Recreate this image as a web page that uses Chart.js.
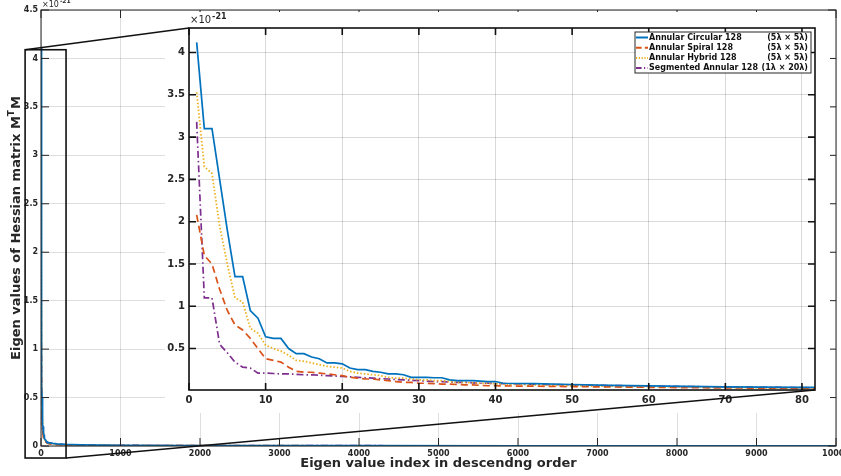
<!DOCTYPE html>
<html>
<head>
<meta charset="utf-8">
<title>Eigen values of Hessian matrix</title>
<script src="https://cdn.jsdelivr.net/npm/chart.js@4/dist/chart.umd.min.js"></script>
<style>
  html, body { margin: 0; padding: 0; background: #fff; }
  #wrap { position: relative; width: 841px; height: 476px; overflow: hidden; }
  #wrap canvas { position: absolute; }
  #mainChart { left: 0; top: 0; }
  #zoomChart { left: 165px; top: 12px; }
  #overlay { left: 0; top: 0; pointer-events: none; }
</style>
</head>
<body>
<div id="wrap">
  <canvas id="mainChart" width="841" height="476"></canvas>
  <canvas id="zoomChart" width="665" height="401"></canvas>
  <canvas id="overlay" width="841" height="476"></canvas>
</div>
<script>
// eigen value index (shared x values for every series)
const eigIndex = [
  1, 2, 3, 4, 5, 6, 7, 8, 9, 10,
  11, 12, 13, 14, 15, 16, 17, 18, 19, 20,
  21, 22, 23, 24, 25, 26, 27, 28, 29, 30,
  31, 32, 33, 34, 35, 36, 37, 38, 39, 40,
  41, 45, 50, 55, 60, 65, 70, 75, 80, 82,
  100, 150, 200, 300, 500, 1000, 2000, 4000, 6000, 8000, 10000
];

// eigen values, in units of 1e-21
const annularCircular = [
  4.12, 3.10, 3.10, 2.50, 1.90, 1.35, 1.35, 0.95, 0.86, 0.64,
  0.62, 0.62, 0.50, 0.44, 0.44, 0.40, 0.38, 0.33, 0.33, 0.32,
  0.27, 0.25, 0.25, 0.23, 0.22, 0.20, 0.20, 0.19, 0.16, 0.16,
  0.16, 0.155, 0.155, 0.13, 0.12, 0.12, 0.12, 0.115, 0.11, 0.11,
  0.09, 0.085, 0.075, 0.065, 0.058, 0.052, 0.048, 0.045, 0.042, 0.04,
  0.035, 0.028, 0.022, 0.016, 0.011, 0.007, 0.004, 0.003, 0.002, 0.0015, 0.001
];
const annularSpiral = [
  2.08, 1.60, 1.50, 1.20, 0.95, 0.78, 0.72, 0.62, 0.50, 0.38,
  0.36, 0.34, 0.28, 0.23, 0.22, 0.22, 0.21, 0.20, 0.19, 0.18,
  0.16, 0.15, 0.14, 0.14, 0.13, 0.12, 0.11, 0.10, 0.10, 0.09,
  0.09, 0.085, 0.08, 0.08, 0.075, 0.07, 0.07, 0.065, 0.06, 0.06,
  0.058, 0.055, 0.05, 0.046, 0.042, 0.038, 0.035, 0.032, 0.03, 0.029,
  0.024, 0.018, 0.014, 0.01, 0.007, 0.004, 0.003, 0.002, 0.0015, 0.001, 0.0005
];
const annularHybrid = [
  3.53, 2.65, 2.57, 1.95, 1.50, 1.10, 1.05, 0.74, 0.68, 0.54,
  0.50, 0.47, 0.42, 0.36, 0.35, 0.33, 0.31, 0.29, 0.28, 0.27,
  0.23, 0.21, 0.20, 0.19, 0.18, 0.16, 0.15, 0.15, 0.14, 0.13,
  0.13, 0.12, 0.12, 0.11, 0.10, 0.10, 0.095, 0.09, 0.09, 0.085,
  0.08, 0.07, 0.06, 0.055, 0.05, 0.045, 0.04, 0.035, 0.032, 0.03,
  0.026, 0.02, 0.016, 0.012, 0.008, 0.005, 0.003, 0.002, 0.0015, 0.001, 0.0008
];
const segmentedAnnular = [
  3.18, 1.10, 1.10, 0.55, 0.45, 0.34, 0.28, 0.27, 0.21, 0.21,
  0.205, 0.20, 0.20, 0.195, 0.19, 0.19, 0.185, 0.18, 0.175, 0.17,
  0.165, 0.16, 0.155, 0.15, 0.145, 0.14, 0.135, 0.13, 0.125, 0.12,
  0.115, 0.11, 0.11, 0.105, 0.10, 0.10, 0.095, 0.09, 0.09, 0.085,
  0.085, 0.078, 0.07, 0.063, 0.056, 0.05, 0.046, 0.042, 0.038, 0.036,
  0.03, 0.024, 0.019, 0.014, 0.01, 0.006, 0.004, 0.003, 0.002, 0.0015, 0.001
];

const seriesNames = ["Annular Circular 128", "Annular Spiral 128", "Annular Hybrid 128", "Segmented Annular 128"];
const seriesSizes = ["(5λ × 5λ)", "(5λ × 5λ)", "(5λ × 5λ)", "(1λ × 20λ)"];
const seriesValues = [annularCircular, annularSpiral, annularHybrid, segmentedAnnular];
const seriesColors = ["#0072BD", "#D95319", "#EDB120", "#7E2F8E"];
const seriesDashes = [[], [7, 4], [1.5, 2], [7, 3, 1.5, 3]];

// region of the main plot that the inset blows up (data units)
const zoomBox = { x0: -200, x1: 315, y0: -0.124, y1: 4.09 };

const FONT = "DejaVu Sans";
const TEXT = "#262626";

function makeDatasets() {
  return seriesValues.map((vals, i) => ({
    label: seriesNames[i],
    data: eigIndex.map((x, j) => ({ x: x, y: vals[j] })),
    borderColor: seriesColors[i],
    borderDash: seriesDashes[i],
    borderWidth: i === 2 ? 1.8 : 1.7,
    pointRadius: 0,
    tension: 0,
    fill: false
  }));
}

// tick label without trailing zeros: 4 not 4.0
const fmt = v => String(Math.round(v * 100) / 100);

// MATLAB-ish box with inward tick marks on all four sides
function drawBox(chart, len, width, color) {
  const { ctx, chartArea: a, scales } = chart;
  ctx.save();
  ctx.strokeStyle = color;
  ctx.lineWidth = width;
  ctx.beginPath();
  scales.x.ticks.forEach(t => {
    const px = scales.x.getPixelForValue(t.value);
    ctx.moveTo(px, a.bottom); ctx.lineTo(px, a.bottom - len);
    ctx.moveTo(px, a.top); ctx.lineTo(px, a.top + len);
  });
  scales.y.ticks.forEach(t => {
    const py = scales.y.getPixelForValue(t.value);
    ctx.moveTo(a.left, py); ctx.lineTo(a.left + len, py);
    ctx.moveTo(a.right, py); ctx.lineTo(a.right - len, py);
  });
  ctx.stroke();
  ctx.strokeRect(a.left, a.top, a.right - a.left, a.bottom - a.top);
  ctx.restore();
}

// "×10^-21" exponent label above the y axis
function drawExponent(ctx, x, y, size) {
  ctx.save();
  ctx.fillStyle = TEXT;
  ctx.textAlign = "left";
  ctx.textBaseline = "alphabetic";
  ctx.font = size + "px " + FONT;
  ctx.fillText("×10", x, y);
  const w = ctx.measureText("×10").width;
  ctx.font = "bold " + Math.round(size * 0.75) + "px " + FONT;
  ctx.fillText("-21", x + w + 1, y - size * 0.45);
  ctx.restore();
}

function noPad(scale) {
  scale.paddingLeft = 0; scale.paddingRight = 0;
  scale.paddingTop = 0; scale.paddingBottom = 0;
}

const mainDecor = {
  id: "mainDecor",
  afterDraw(chart) {
    const { ctx, chartArea: a } = chart;
    drawBox(chart, 8, 1, TEXT);
    drawExponent(ctx, a.left + 1, a.top - 3, 8);

    // axis titles
    ctx.save();
    ctx.fillStyle = TEXT;
    ctx.font = "bold 13px " + FONT;
    ctx.textAlign = "center";
    ctx.textBaseline = "middle";
    ctx.fillText("Eigen value index in descendng order", (a.left + a.right) / 2, 464);

    const p1 = "Eigen values of Hessian matrix M", p2 = "M", sup = "T";
    const w1 = ctx.measureText(p1).width, w2 = ctx.measureText(p2).width;
    ctx.font = "bold 9px " + FONT;
    const ws = ctx.measureText(sup).width;
    const total = w1 + ws + w2 + 1;
    ctx.translate(17, (a.top + a.bottom) / 2);
    ctx.rotate(-Math.PI / 2);
    ctx.textAlign = "left";
    ctx.font = "bold 13px " + FONT;
    let cx = -total / 2;
    ctx.fillText(p1, cx, 0); cx += w1;
    ctx.font = "bold 9px " + FONT;
    ctx.fillText(sup, cx, -5); cx += ws + 1;
    ctx.font = "bold 13px " + FONT;
    ctx.fillText(p2, cx, 0);
    ctx.restore();
  }
};

const zoomDecor = {
  id: "zoomDecor",
  beforeDraw(chart) {
    const ctx = chart.ctx;
    ctx.save();
    ctx.fillStyle = "#fff";
    ctx.fillRect(0, 0, chart.width, chart.height);
    ctx.restore();
  },
  afterDraw(chart) {
    const { ctx, chartArea: a } = chart;
    drawBox(chart, 7, 1.6, "#111");
    drawExponent(ctx, a.left + 1, a.top - 5, 10);

    // legend: name on the left, aperture size right-aligned
    const bw = 176, bh = 41;
    const bx = a.right - 4 - bw, by = a.top + 4;
    ctx.save();
    ctx.fillStyle = "#fff";
    ctx.fillRect(bx, by, bw, bh);
    ctx.strokeStyle = "#262626";
    ctx.lineWidth = 1;
    ctx.strokeRect(bx, by, bw, bh);
    ctx.font = "bold 8px " + FONT;
    ctx.textBaseline = "middle";
    seriesNames.forEach((name, i) => {
      const ry = by + 5.5 + i * 10.2;
      ctx.strokeStyle = seriesColors[i];
      ctx.lineWidth = 2;
      ctx.setLineDash(seriesDashes[i].map(d => d * 0.8));
      ctx.beginPath();
      ctx.moveTo(bx + 1, ry); ctx.lineTo(bx + 13, ry);
      ctx.stroke();
      ctx.setLineDash([]);
      ctx.fillStyle = "#111";
      ctx.textAlign = "left";
      ctx.fillText(name, bx + 14, ry);
      ctx.textAlign = "right";
      ctx.fillText(seriesSizes[i], bx + bw - 3, ry);
    });
    ctx.restore();
  }
};

const gridColor = "rgba(0,0,0,0.13)";

const mainChart = new Chart(document.getElementById("mainChart"), {
  type: "line",
  data: { datasets: makeDatasets() },
  options: {
    responsive: false,
    animation: false,
    layout: { padding: { left: 0, top: 10, right: 5, bottom: 0 } },
    plugins: { legend: { display: false }, tooltip: { enabled: false } },
    scales: {
      x: {
        type: "linear", min: 0, max: 10000,
        afterFit: s => { s.height = 30; noPad(s); },
        border: { display: false },
        grid: { color: gridColor, drawTicks: false },
        ticks: {
          stepSize: 1000, autoSkip: false, maxRotation: 0, padding: 3,
          color: TEXT, font: { family: FONT, size: 8, weight: "bold" },
          callback: v => String(v)
        }
      },
      y: {
        min: 0, max: 4.5,
        afterFit: s => { s.width = 41; noPad(s); },
        border: { display: false },
        grid: { color: gridColor, drawTicks: false },
        ticks: {
          stepSize: 0.5, padding: 3,
          color: TEXT, font: { family: FONT, size: 8, weight: "bold" },
          callback: fmt
        }
      }
    }
  },
  plugins: [mainDecor]
});

const zoomChart = new Chart(document.getElementById("zoomChart"), {
  type: "line",
  data: { datasets: makeDatasets() },
  options: {
    responsive: false,
    animation: false,
    layout: { padding: { left: 0, top: 16, right: 15, bottom: 0 } },
    plugins: { legend: { display: false }, tooltip: { enabled: false } },
    scales: {
      x: {
        type: "linear", min: 0, max: 81.7,
        afterFit: s => { s.height = 23; noPad(s); },
        border: { display: false },
        grid: { color: "rgba(0,0,0,0.15)", drawTicks: false },
        ticks: {
          stepSize: 10, includeBounds: false, autoSkip: false, maxRotation: 0, padding: 4,
          color: TEXT, font: { family: FONT, size: 10, weight: "bold" },
          callback: fmt
        }
      },
      y: {
        min: 0.01, max: 4.29,
        afterFit: s => { s.width = 24; noPad(s); },
        border: { display: false },
        grid: { color: "rgba(0,0,0,0.15)", drawTicks: false },
        ticks: {
          stepSize: 0.5, includeBounds: false, padding: 4,
          color: TEXT, font: { family: FONT, size: 10, weight: "bold" },
          callback: fmt
        }
      }
    }
  },
  plugins: [zoomDecor]
});

// zoom rectangle on the main plot and the two connector lines to the inset
function drawConnectors() {
  const ctx = document.getElementById("overlay").getContext("2d");
  const mx = mainChart.scales.x, my = mainChart.scales.y;
  const left = mx.getPixelForValue(zoomBox.x0), right = mx.getPixelForValue(zoomBox.x1);
  const top = my.getPixelForValue(zoomBox.y1), bottom = my.getPixelForValue(zoomBox.y0);
  const za = zoomChart.chartArea;
  const offX = 165, offY = 12;
  ctx.strokeStyle = "#111";
  ctx.lineWidth = 1.6;
  ctx.strokeRect(left, top, right - left, bottom - top);
  ctx.beginPath();
  ctx.moveTo(left, top); ctx.lineTo(za.left + offX, za.top + offY);
  ctx.moveTo(right, bottom); ctx.lineTo(za.right + offX, za.bottom + offY);
  ctx.stroke();
}
drawConnectors();
</script>
</body>
</html>
